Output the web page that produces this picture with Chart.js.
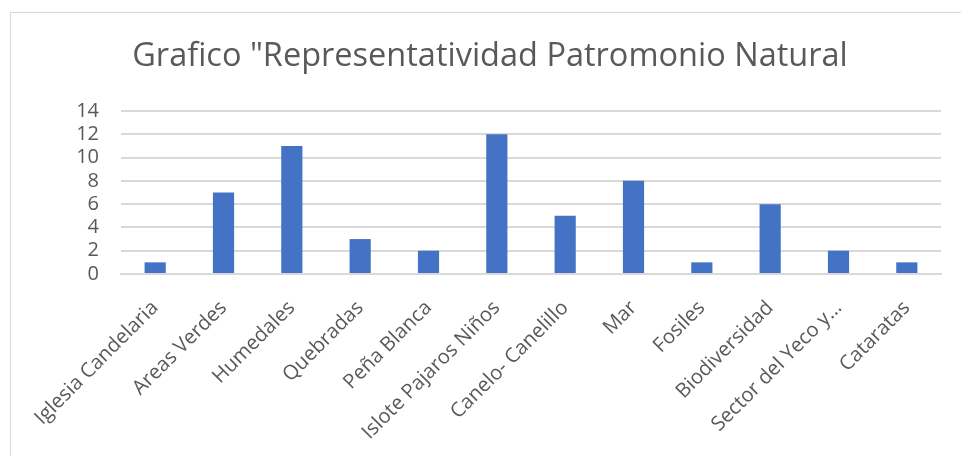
<!DOCTYPE html>
<html>
<head>
<meta charset="utf-8">
<script src="https://cdn.jsdelivr.net/npm/chart.js@4/dist/chart.umd.min.js"></script>
<style>
  html, body { margin: 0; padding: 0; background: #fff; overflow: hidden; }
  #wrap { position: relative; width: 961px; height: 456px; }
  #frame { position: absolute; left: 10px; top: 12px; width: 1000px; height: 500px; border: 1px solid #d9d9d9; }
  #chart { position: absolute; left: 0; top: 0; }
</style>
</head>
<body>
<div id="wrap">
  <div id="frame"></div>
  <canvas id="chart" width="961" height="456"></canvas>
</div>
<script>
var titleText = 'Grafico "Representatividad Patromonio Natural';
var categories = ["Iglesia Candelaria", "Areas Verdes", "Humedales", "Quebradas", "Peña Blanca",
  "Islote Pajaros Niños", "Canelo- Canelillo", "Mar", "Fosiles", "Biodiversidad",
  "Sector del Yeco y…", "Cataratas"];
var values = [1, 7, 11, 3, 2, 12, 5, 8, 1, 6, 2, 1];
var yTicks = [0, 2, 4, 6, 8, 10, 12, 14];

var textColor = "#595959";
var fontFamily = "'Open Sans', 'Noto Sans', sans-serif";

// title drawn by hand so it can sit slightly right of centre like the original
var titlePlugin = {
  id: "manualTitle",
  afterDraw: function (chart) {
    var ctx = chart.ctx;
    ctx.save();
    ctx.fillStyle = textColor;
    ctx.font = "32.5px " + fontFamily;
    ctx.textAlign = "center";
    ctx.textBaseline = "middle";
    ctx.fillText(titleText, 490, 57);
    ctx.restore();
  }
};

new Chart(document.getElementById("chart"), {
  type: "bar",
  data: {
    labels: categories,
    datasets: [{
      data: values,
      backgroundColor: "#4472C4",
      barPercentage: 0.31,
      categoryPercentage: 1
    }]
  },
  options: {
    responsive: false,
    animation: false,
    layout: { padding: { top: 111, left: 20, right: 20, bottom: 0 } },
    plugins: { legend: { display: false }, tooltip: { enabled: false }, title: { display: false } },
    scales: {
      x: {
        grid: { display: false },
        border: { color: "#d9d9d9", width: 2 },
        ticks: {
          color: textColor,
          font: { family: fontFamily, size: 20.2 },
          maxRotation: 45,
          minRotation: 45,
          autoSkip: false,
          padding: 14
        },
        afterFit: function (scale) { scale.height = 182; }
      },
      y: {
        min: 0,
        max: 14,
        afterBuildTicks: function (scale) {
          scale.ticks = yTicks.map(function (v) { return { value: v }; });
        },
        grid: { color: "#d9d9d9", lineWidth: 2, drawTicks: false },
        border: { display: false },
        ticks: {
          color: textColor,
          font: { family: fontFamily, size: 20 },
          padding: 22,
          autoSkip: false
        },
        afterFit: function (scale) { scale.width = 101; }
      }
    }
  },
  plugins: [titlePlugin]
});
</script>
</body>
</html>
